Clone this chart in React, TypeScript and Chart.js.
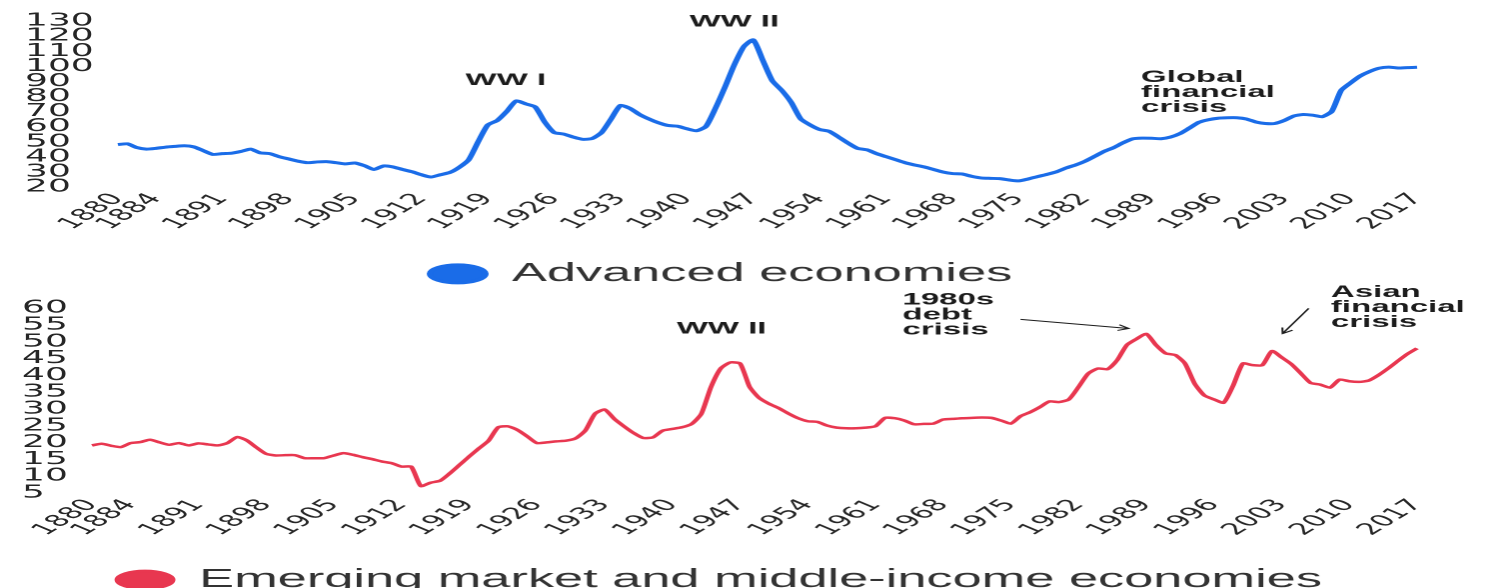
import React, { useEffect, useRef } from 'react';
import { Chart, registerables } from 'chart.js';

Chart.register(...registerables);

// ---------- data ----------
const years: string[] = Array.from({ length: 138 }, (_, i) => String(1880 + i));

const xTickLabels = ['1880', '1884', '1891', '1898', '1905', '1912', '1919', '1926', '1933', '1940', '1947',
  '1954', '1961', '1968', '1975', '1982', '1989', '1996', '2003', '2010', '2017'];

const advancedTicks = [20, 30, 40, 50, 60, 70, 80, 90, 100, 110, 120, 130];
const emergingTicks = [5, 10, 15, 20, 25, 30, 35, 40, 45, 50, 55, 60];

const advanced = [
  48, 48.5, 46, 45, 45.5, 46.3, 46.8, 47.2, 46.5, 44,
  41.5, 42, 42.3, 43.5, 45, 42.5, 42, 40, 38.5, 37,
  36, 36.5, 36.7, 36, 35.2, 35.8, 34, 31.5, 33.8, 33.2,
  31.5, 30, 28, 26.5, 28, 29.5, 33, 38, 50, 61,
  64, 70, 77, 75, 73, 63, 56, 55, 53, 51.5,
  52, 56, 65, 74, 72, 68, 65, 62.5, 60.7, 60.2,
  58.5, 57.2, 60, 72, 86, 101, 113, 117.5, 104, 90.4,
  84, 76, 65, 61, 58, 56.8, 53, 49, 45.5, 44.5,
  42, 40, 38, 36, 34.5, 33.2, 31.5, 29.8, 28.8, 28.5,
  27, 25.9, 25.6, 25.4, 24.5, 23.9, 25.2, 26.8, 28.3, 30,
  32.5, 34.5, 37, 40.2, 43.5, 46, 49.2, 51.8, 52.3, 52.2,
  51.9, 53, 55.3, 59, 62.8, 64.5, 65.5, 65.8, 65.8, 65,
  63, 62, 62, 64, 67, 68, 67.5, 66.5, 70, 84,
  89, 93.5, 96.5, 98.7, 99.4, 98.8, 99.1, 99.3,
];

const emerging = [
  19.1, 19.6, 19, 18.6, 19.8, 20.1, 20.8, 20, 19.3, 19.8,
  19.1, 19.7, 19.4, 19.1, 19.8, 21.6, 20.6, 18.5, 16.6, 16.1,
  16.2, 16.2, 15.3, 15.3, 15.3, 16.1, 16.8, 16.3, 15.6, 15,
  14.3, 13.8, 12.8, 12.8, 7, 8, 8.6, 10.8, 13.3, 15.8,
  18.2, 20.5, 24.5, 24.8, 23.7, 21.8, 19.8, 20, 20.3, 20.5,
  21.2, 23.5, 28.5, 29.8, 27, 24.8, 22.8, 21.3, 21.5, 23.5,
  24, 24.5, 25.5, 28.5, 36.5, 42, 43.8, 43.5, 36.5, 33.2,
  31.5, 30.2, 28.6, 27.2, 26.3, 26.1, 25, 24.4, 24.2, 24.2,
  24.4, 24.8, 27.3, 27.2, 26.5, 25.4, 25.5, 25.6, 26.8, 27,
  27.2, 27.3, 27.4, 27.3, 26.5, 25.6, 27.8, 29, 30.5, 32.2,
  32, 32.8, 36.5, 40.5, 42, 41.8, 44.5, 49, 50.8, 52.3,
  49, 46.5, 46, 43.5, 37.5, 34, 32.8, 31.8, 37, 43.5,
  43, 43, 47.2, 45.3, 43.3, 40.5, 37.7, 37.2, 36.3, 38.7,
  38.2, 38, 38.4, 40, 42, 44.2, 46.3, 48,
];

type Note = { lines: string[]; year: number; value: number; align: CanvasTextAlign };
type Arrow = { from: [number, number]; to: [number, number] };

const advancedNotes: Note[] = [
  { lines: ['WW I'], year: 1920.9, value: 90.4, align: 'center' },
  { lines: ['WW II'], year: 1945, value: 129.3, align: 'center' },
  { lines: ['Global', 'financial', 'crisis'], year: 1987.9, value: 92.4, align: 'left' },
];
const emergingNotes: Note[] = [
  { lines: ['WW II'], year: 1945.1, value: 53.7, align: 'center' },
  { lines: ['1980s', 'debt', 'crisis'], year: 1963.8, value: 62.4, align: 'left' },
  { lines: ['Asian', 'financial', 'crisis'], year: 2008.1, value: 64.7, align: 'left' },
];
const advancedArrows: Arrow[] = [];
const emergingArrows: Arrow[] = [
  { from: [1976.0, 56.6], to: [1987.2, 53.9] },
  { from: [2005.8, 59.9], to: [2003.1, 52.4] },
];

// ---------- rendering ----------
const CW = 746; // canvas logical width
const SX = 1491 / CW; // horizontal stretch
const TICK_FONT = '"DejaVu Sans", sans-serif';
const TEXT_FONT = '"Liberation Sans", Arial, sans-serif';

function makeNotesPlugin(notes: Note[], arrows: Arrow[]) {
  return {
    id: 'notes',
    afterDraw(chart: any) {
      const { ctx } = chart;
      const xs = chart.scales.x;
      const ys = chart.scales.y;
      const base = Number(years[0]);
      ctx.save();
      ctx.font = `bold 16.5px ${TEXT_FONT}`;
      ctx.fillStyle = '#1c1c1c';
      ctx.textBaseline = 'middle';
      notes.forEach((n) => {
        const px = xs.getPixelForValue(n.year - base);
        const py = ys.getPixelForValue(n.value);
        ctx.textAlign = n.align;
        n.lines.forEach((t, i) => ctx.fillText(t, px, py + i * 15));
      });
      ctx.strokeStyle = '#1c1c1c';
      ctx.lineWidth = 1;
      arrows.forEach((a) => {
        const x1 = xs.getPixelForValue(a.from[0] - base);
        const y1 = ys.getPixelForValue(a.from[1]);
        const x2 = xs.getPixelForValue(a.to[0] - base);
        const y2 = ys.getPixelForValue(a.to[1]);
        const ang = Math.atan2(y2 - y1, x2 - x1);
        const hl = 6;
        ctx.beginPath();
        ctx.moveTo(x1, y1);
        ctx.lineTo(x2, y2);
        ctx.moveTo(x2 - hl * Math.cos(ang - 0.5), y2 - hl * Math.sin(ang - 0.5));
        ctx.lineTo(x2, y2);
        ctx.lineTo(x2 - hl * Math.cos(ang + 0.5), y2 - hl * Math.sin(ang + 0.5));
        ctx.stroke();
      });
      ctx.restore();
    },
  };
}

type Props = {
  top: number;
  height: number;
  padTop: number;
  padLeft: number;
  yWidth: number;
  label: string;
  values: number[];
  color: string;
  lineWidth: number;
  ticks: number[];
  notes: Note[];
  arrows: Arrow[];
};

function StretchedChart(p: Props) {
  const ref = useRef<HTMLCanvasElement | null>(null);
  useEffect(() => {
    if (!ref.current) return;
    const chart = new Chart(ref.current, {
      type: 'line',
      data: {
        labels: years,
        datasets: [
          {
            label: p.label,
            data: p.values,
            borderColor: p.color,
            backgroundColor: p.color,
            borderWidth: p.lineWidth,
            pointRadius: 0,
            tension: 0.2,
          },
        ],
      },
      options: {
        responsive: false,
        animation: false,
        devicePixelRatio: 2,
        layout: { padding: { top: p.padTop, left: p.padLeft, right: 37, bottom: 0 } },
        plugins: {
          legend: {
            position: 'bottom',
            labels: {
              usePointStyle: true,
              pointStyle: 'circle',
              boxHeight: 12.7,
              pointStyleWidth: 28,
              padding: 30,
              color: '#333',
              font: { family: TEXT_FONT, size: 26.2 },
            },
          },
          tooltip: { enabled: false },
        },
        scales: {
          x: {
            type: 'category',
            grid: { display: false, drawTicks: false },
            border: { display: false },
            ticks: {
              autoSkip: false,
              minRotation: 50,
              maxRotation: 50,
              padding: 3,
              color: '#262626',
              font: { family: TICK_FONT, size: 16 },
              callback: function (this: any, val: any) {
                const l = this.getLabelForValue(val);
                return xTickLabels.includes(l) ? l : '';
              },
            },
            afterFit: (s: any) => {
              s.height = 44;
            },
          },
          y: {
            min: p.ticks[0],
            max: p.ticks[p.ticks.length - 1],
            grid: { display: false, drawTicks: false },
            border: { display: false },
            ticks: {
              autoSkip: false,
              crossAlign: 'far',
              padding: 0,
              color: '#262626',
              font: { family: TICK_FONT, size: 18 },
            },
            afterBuildTicks: (s: any) => {
              s.ticks = p.ticks.map((v) => ({ value: v }));
            },
            afterFit: (s: any) => {
              s.width = p.yWidth;
            },
          },
        },
      },
      plugins: [makeNotesPlugin(p.notes, p.arrows)],
    } as any);
    return () => chart.destroy();
  }, []);
  return (
    <div
      style={{
        position: 'absolute',
        left: 0,
        top: p.top,
        width: CW,
        height: p.height,
        transform: `scaleX(${SX})`,
        transformOrigin: '0 0',
      }}
    >
      <canvas ref={ref} width={CW} height={p.height} style={{ width: CW, height: p.height, display: 'block' }} />
    </div>
  );
}

export default function App() {
  return (
    <div
      style={{
        position: 'fixed',
        left: 0,
        top: 0,
        width: 1491,
        height: 588,
        overflow: 'hidden',
        background: '#fff',
      }}
    >
      <StretchedChart
        top={0}
        height={297}
        padTop={21}
        padLeft={12.5}
        yWidth={46.5}
        label="Advanced economies"
        values={advanced}
        color="rgb(26, 108, 232)"
        lineWidth={3}
        ticks={advancedTicks}
        notes={advancedNotes}
        arrows={advancedArrows}
      />
      <StretchedChart
        top={277}
        height={326}
        padTop={31}
        padLeft={11}
        yWidth={35}
        label="Emerging market and middle-income economies"
        values={emerging}
        color="rgb(232, 55, 80)"
        lineWidth={2.5}
        ticks={emergingTicks}
        notes={emergingNotes}
        arrows={emergingArrows}
      />
    </div>
  );
}
